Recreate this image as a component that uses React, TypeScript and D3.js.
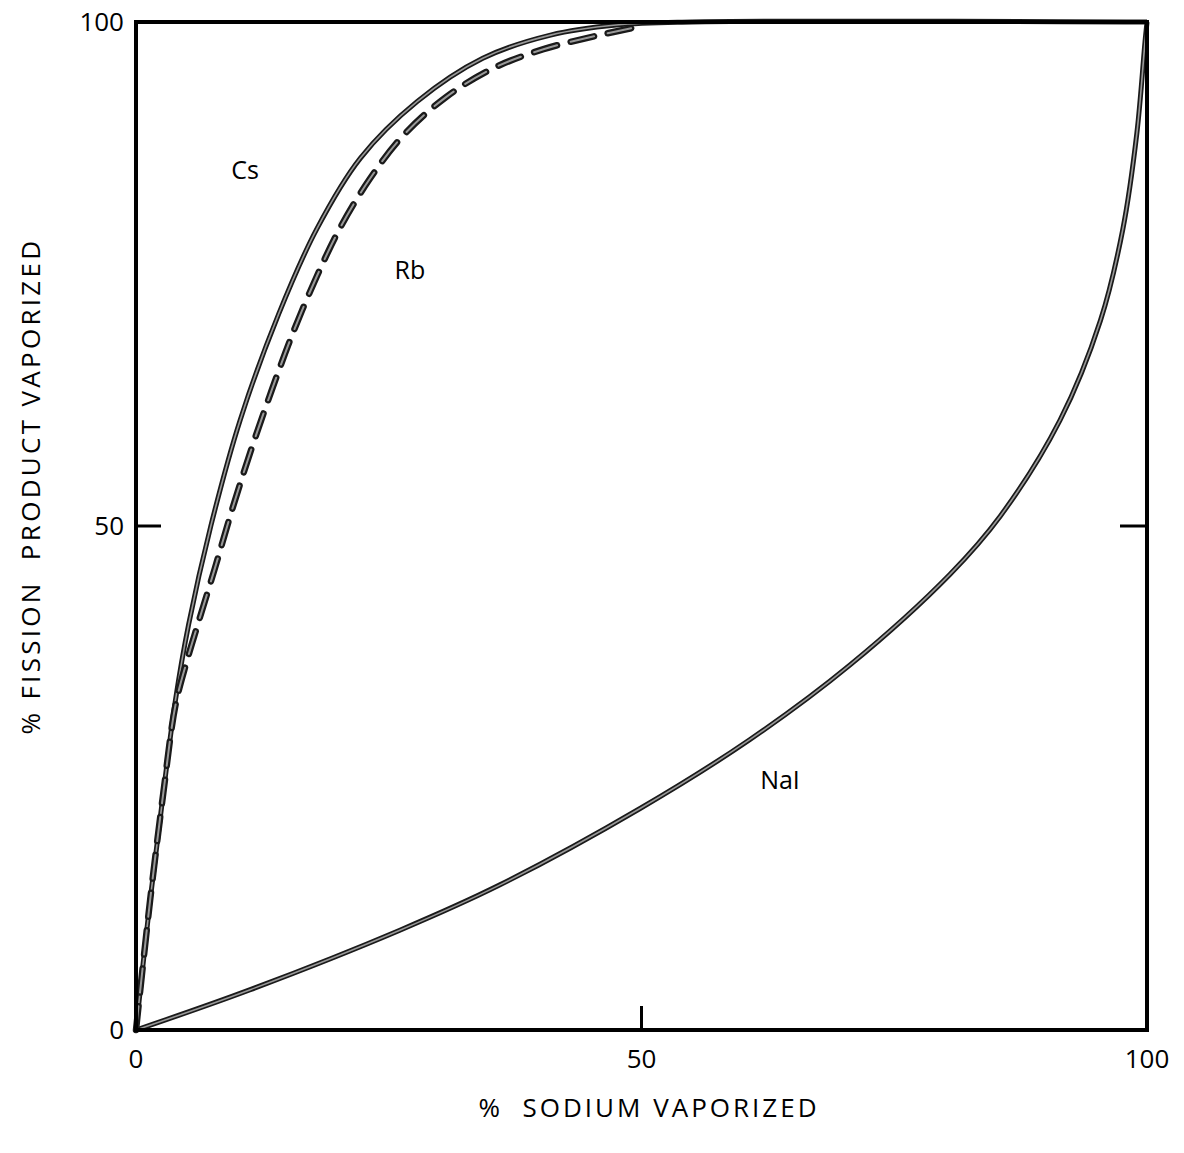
import React from "react";
import * as d3 from "d3";

// values (x = % sodium vaporized, y = % fission product vaporized)
const csX = [0, 1.4, 2.7, 3.9, 5.2, 7.4, 10.3, 14.1, 17.9, 22.2, 27.8, 34.3, 41, 47.5, 55, 100];
const csY = [0, 12.9, 23.5, 32.7, 40.2, 50, 60.5, 71, 79.5, 86.5, 92.1, 96.4, 98.7, 99.7, 100, 100];

const rbX = [0, 1.4, 2.7, 3.9, 5.0, 6.1, 7.8, 9.5, 11.4, 13.4, 15.5, 17.9, 20.2, 23.1, 26.3, 30.6, 35.3, 40.3, 45.4, 50];
const rbY = [0, 12.9, 23.5, 32.2, 36.5, 40.2, 45.8, 51.6, 57.6, 63.4, 69.1, 74.8, 79.6, 84.4, 88.6, 92.5, 95.4, 97.3, 98.6, 99.6];

const naiX = [0, 11.3, 26.1, 36, 49.9, 60.7, 70.6, 80.5, 85.5, 91.4, 95.4, 97.6, 99, 99.8, 100];
const naiY = [0, 4, 9.9, 14.4, 22, 28.8, 36.2, 45.2, 51, 60.5, 70.4, 79.4, 89, 98, 100];

const xTicks = [0, 50, 100];
const yTicks = [0, 50, 100];

const labels = [
  { text: "Cs", x: 10.8, y: 85.3 },
  { text: "Rb", x: 27.1, y: 75.4 },
  { text: "NaI", x: 63.7, y: 24.8 },
];

const W = 1184;
const H = 1153;
const left = 136, right = 1147, top = 22, bottom = 1030;
const font = "'Open Sans', 'DejaVu Sans', sans-serif";

export default function App() {
  const x = d3.scaleLinear().domain([0, 100]).range([left, right]);
  const y = d3.scaleLinear().domain([0, 100]).range([bottom, top]);

  const line = d3
    .line<[number, number]>()
    .x((d) => x(d[0]))
    .y((d) => y(d[1]))
    .curve(d3.curveCatmullRom.alpha(0.5));

  const cs = line(csX.map((v, i) => [v, csY[i]]) as [number, number][]) || "";
  const rb = line(rbX.map((v, i) => [v, rbY[i]]) as [number, number][]) || "";
  const nai = line(naiX.map((v, i) => [v, naiY[i]]) as [number, number][]) || "";

  return (
    <div style={{ position: "absolute", left: 0, top: 0 }}>
      <svg width={W} height={H} style={{ display: "block", background: "#fff" }}>
        {/* curves: dark outline with lighter core like the inked original */}
        <path d={nai} fill="none" stroke="#1a1a1a" strokeWidth={5} />
        <path d={nai} fill="none" stroke="#999" strokeWidth={1.6} />
        <path d={cs} fill="none" stroke="#1a1a1a" strokeWidth={5} />
        <path d={cs} fill="none" stroke="#999" strokeWidth={1.6} />
        <path d={rb} fill="none" stroke="#1a1a1a" strokeWidth={6.5} strokeDasharray="24 14" strokeLinecap="round" />
        <path d={rb} fill="none" stroke="#999" strokeWidth={2} strokeDasharray="24 14" strokeLinecap="round" />

        {/* frame */}
        <rect x={left} y={top} width={right - left} height={bottom - top} fill="none" stroke="#000" strokeWidth={4} />

        {/* mid ticks */}
        <line x1={x(0)} x2={x(0) + 25} y1={y(50)} y2={y(50)} stroke="#000" strokeWidth={3} />
        <line x1={x(100)} x2={x(100) - 27} y1={y(50)} y2={y(50)} stroke="#000" strokeWidth={3} />
        <line x1={x(50)} x2={x(50)} y1={y(0)} y2={y(0) - 24} stroke="#000" strokeWidth={3} />

        {/* tick labels */}
        {yTicks.map((t) => (
          <text key={"y" + t} x={left - 12} y={y(t)} dy="0.36em" textAnchor="end" fontFamily={font} fontSize={26} fill="#000">
            {t}
          </text>
        ))}
        {xTicks.map((t) => (
          <text key={"x" + t} x={x(t)} y={bottom + 38} textAnchor="middle" fontFamily={font} fontSize={26} fill="#000">
            {t}
          </text>
        ))}

        {/* series labels */}
        {labels.map((l) => (
          <text key={l.text} x={x(l.x)} y={y(l.y)} dy="0.36em" textAnchor="middle" fontFamily={font} fontSize={25} fill="#000">
            {l.text}
          </text>
        ))}

        {/* axis titles */}
        <text
          x={649}
          y={1117}
          textAnchor="middle"
          fontFamily={font}
          fontSize={26}
          letterSpacing={3}
          fill="#000"
          style={{ whiteSpace: "pre" }}
        >
          {"%  SODIUM VAPORIZED"}
        </text>
        <text
          transform={`translate(40, ${486}) rotate(-90)`}
          textAnchor="middle"
          fontFamily={font}
          fontSize={26}
          letterSpacing={3.3}
          fill="#000"
          style={{ whiteSpace: "pre" }}
        >
          {"% FISSION  PRODUCT VAPORIZED"}
        </text>
      </svg>
    </div>
  );
}
